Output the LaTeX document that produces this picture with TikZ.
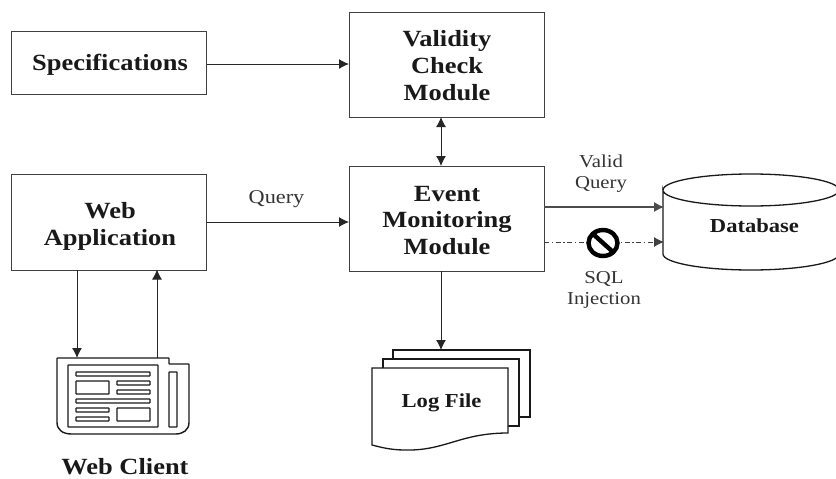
\documentclass[tikz,border=0pt]{standalone}
\usepackage{fontspec}
\setmainfont{Liberation Serif}
\newfontfamily\stretchfont[FakeStretch=1.14]{Liberation Serif}
\usetikzlibrary{arrows.meta}
\tikzset{
 x=1pt,y=-1pt,
 blk/.style={draw=black!75,line width=1pt,fill=white,inner sep=0pt},
 heavy/.style={draw=black!90,line width=1.3pt,fill=white},
 lbl/.style={font=\stretchfont\fontsize{23.2}{26.8}\selectfont\bfseries,align=center,text=black!90,inner sep=0pt},
 lblsm/.style={font=\stretchfont\fontsize{19.8}{24}\selectfont\bfseries,align=center,text=black!90,inner sep=0pt},
 small/.style={font=\stretchfont\fontsize{18.2}{21}\selectfont,align=center,text=black!80,inner sep=0pt},
 conn/.style={draw=black!85,line width=1pt,-{Latex[length=10pt,width=10pt]}},
 both/.style={draw=black!85,line width=1pt,{Latex[length=10pt,width=10pt]}-{Latex[length=10pt,width=10pt]}},
 dashconn/.style={draw=black!75,line width=0.8pt,dash pattern=on 5pt off 2.5pt on 1.5pt off 2.5pt,-{Latex[length=10pt,width=10pt]}},
 icon/.style={draw=black!90,line width=1.4pt,fill=white,rounded corners=0.5pt},
}
\begin{document}
\begin{tikzpicture}
\useasboundingbox (0,0) rectangle (836,479);
\node[blk,minimum width=195pt,minimum height=63pt] (spec) at (109,63) {};
\node[blk,minimum width=195pt,minimum height=105pt] (valid) at (446.5,64.5) {};
\node[blk,minimum width=195pt,minimum height=96pt] (web) at (109,222) {};
\node[blk,minimum width=195pt,minimum height=105pt] (event) at (446.5,218.5) {};
\node[lbl] (specT) at (110,65) {Specifications};
\node[lbl] (validT) at (447,65.5) {Validity\\Check\\Module};
\node[lbl] (webT) at (110,226.5) {Web\\Application};
\node[lbl] (eventT) at (447,220.5) {Event\\Monitoring\\Module};
% database
\draw[heavy] (663,190) arc[start angle=180,end angle=0,x radius=88,y radius=16] -- (839,254) arc[start angle=0,end angle=180,x radius=88,y radius=16] -- cycle;
\draw[heavy] (663,190) arc[start angle=180,end angle=360,x radius=88,y radius=16];
\node[lblsm] (db) at (754.5,226) {Database};
\coordinate (dbA) at (664,207);
\coordinate (dbB) at (664,242);
\coordinate (evA) at (544,207);
\coordinate (evB) at (544,242);
% log file
\draw[heavy] (393,350) -- (530,350) -- (530,417) -- (393,417) -- cycle;
\draw[heavy] (383,359) -- (519,359) -- (519,426) -- (383,426) -- cycle;
\draw[heavy] (372,368) -- (508,368) -- (508,433) .. controls (460,433) and (445,451) .. (405,450) .. controls (390,450) and (380,447) .. (372,445) -- cycle;
\node[lblsm] (log) at (441.5,403) {Log File};
\coordinate (logT) at (441,350);
% web client icon
\draw[icon] (57,358) -- (169,358) -- (169,364) -- (189,364) -- (189,422) .. controls (189,430) and (183,434) .. (175,434) -- (72,434) .. controls (63,434) and (57,430) .. (57,422) -- cycle;
\draw[icon] (68,365) -- (158,365) -- (158,427) -- (68,427) -- cycle;
\draw[icon] (169,372) -- (177,372) -- (177,427) -- (169,427) -- cycle;
\draw[icon] (76,372) rectangle (150,376);
\draw[icon] (76,381) rectangle (109,394);
\draw[icon] (117,381) rectangle (150,385);
\draw[icon] (117,390) rectangle (150,394);
\draw[icon] (76,399) rectangle (150,403);
\draw[icon] (76,408) rectangle (109,412);
\draw[icon] (76,417) rectangle (109,421);
\draw[icon] (117,408) rectangle (150,421);
\coordinate (clA) at (77,358);
\coordinate (clB) at (157,358);
\coordinate (webA) at (77,269.5);
\coordinate (webB) at (157,269.5);
\node[lbl,align=none] (cl) at (125,467) {Web Client};
% connectors
\coordinate (spE) at (206.5,64);
\coordinate (vaW) at (349,64);
\draw[conn] (spE) -- (vaW);
\coordinate (vaS) at (441,117);
\coordinate (evN) at (441,166);
\draw[both] (vaS) -- (evN);
\coordinate (weE) at (206.5,222);
\coordinate (evW) at (349,222);
\draw[conn] (weE) -- (evW);
\draw[conn] (webA) -- (clA);
\draw[conn] (clB) -- (webB);
\coordinate (evS) at (441,271);
\draw[conn] (evS) -- (logT);
\draw[conn,draw=black!70,line width=1.2pt] (evA) -- (dbA);
\draw[dashconn] (evB) -- (dbB);
% prohibition sign
\draw[black,line width=4.4pt,fill=white] (603,243) ellipse [x radius=14.5pt,y radius=13pt];
\draw[black,line width=4.4pt] (593,234) -- (613,252);
% labels
\node[small,font=\stretchfont\fontsize{19.5}{21}\selectfont] (q) at (276.5,199) {Query};
\node[small] (vq) at (601,174) {Valid\\Query};
\node[small] (sq) at (604,290) {SQL\\Injection};
\end{tikzpicture}
\end{document}
